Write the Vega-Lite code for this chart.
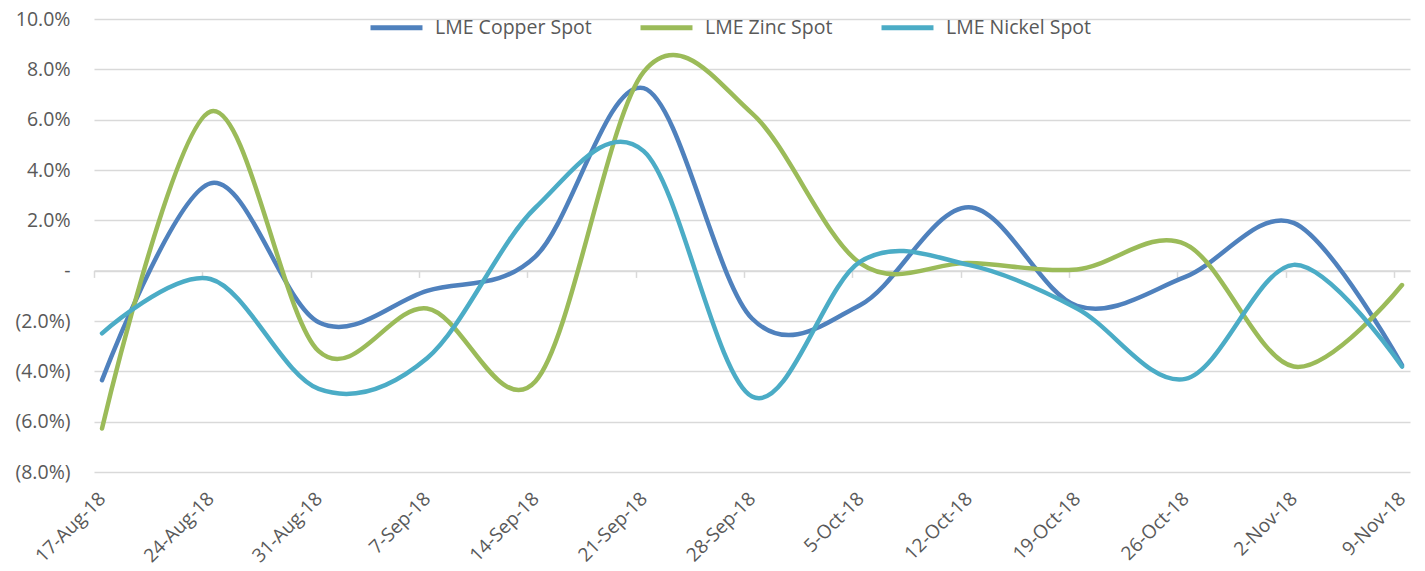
{
  "$schema": "https://vega.github.io/schema/vega-lite/v6.json",
  "width": 1316,
  "height": 453,
  "autosize": {"type": "none"},
  "padding": {"left": 94, "top": 19, "right": 15, "bottom": 99},
  "background": "white",
  "config": {"view": {"stroke": null}, "font": "Open Sans"},
  "data": {"values": [
    {"week": "17-Aug-18", "series": "LME Copper Spot", "value": -4.35},
    {"week": "24-Aug-18", "series": "LME Copper Spot", "value": 3.47},
    {"week": "31-Aug-18", "series": "LME Copper Spot", "value": -2.05},
    {"week": "7-Sep-18", "series": "LME Copper Spot", "value": -0.8},
    {"week": "14-Sep-18", "series": "LME Copper Spot", "value": 0.56},
    {"week": "21-Sep-18", "series": "LME Copper Spot", "value": 7.25},
    {"week": "28-Sep-18", "series": "LME Copper Spot", "value": -1.9},
    {"week": "5-Oct-18", "series": "LME Copper Spot", "value": -1.36},
    {"week": "12-Oct-18", "series": "LME Copper Spot", "value": 2.52},
    {"week": "19-Oct-18", "series": "LME Copper Spot", "value": -1.4},
    {"week": "26-Oct-18", "series": "LME Copper Spot", "value": -0.25},
    {"week": "2-Nov-18", "series": "LME Copper Spot", "value": 1.9},
    {"week": "9-Nov-18", "series": "LME Copper Spot", "value": -3.75},
    {"week": "17-Aug-18", "series": "LME Zinc Spot", "value": -6.27},
    {"week": "24-Aug-18", "series": "LME Zinc Spot", "value": 6.32},
    {"week": "31-Aug-18", "series": "LME Zinc Spot", "value": -3.2},
    {"week": "7-Sep-18", "series": "LME Zinc Spot", "value": -1.5},
    {"week": "14-Sep-18", "series": "LME Zinc Spot", "value": -4.4},
    {"week": "21-Sep-18", "series": "LME Zinc Spot", "value": 7.9},
    {"week": "28-Sep-18", "series": "LME Zinc Spot", "value": 6.25},
    {"week": "5-Oct-18", "series": "LME Zinc Spot", "value": 0.29},
    {"week": "12-Oct-18", "series": "LME Zinc Spot", "value": 0.3},
    {"week": "19-Oct-18", "series": "LME Zinc Spot", "value": 0.05},
    {"week": "26-Oct-18", "series": "LME Zinc Spot", "value": 1.05},
    {"week": "2-Nov-18", "series": "LME Zinc Spot", "value": -3.81},
    {"week": "9-Nov-18", "series": "LME Zinc Spot", "value": -0.57},
    {"week": "17-Aug-18", "series": "LME Nickel Spot", "value": -2.49},
    {"week": "24-Aug-18", "series": "LME Nickel Spot", "value": -0.33},
    {"week": "31-Aug-18", "series": "LME Nickel Spot", "value": -4.7},
    {"week": "7-Sep-18", "series": "LME Nickel Spot", "value": -3.48},
    {"week": "14-Sep-18", "series": "LME Nickel Spot", "value": 2.5},
    {"week": "21-Sep-18", "series": "LME Nickel Spot", "value": 4.75},
    {"week": "28-Sep-18", "series": "LME Nickel Spot", "value": -5.0},
    {"week": "5-Oct-18", "series": "LME Nickel Spot", "value": 0.36},
    {"week": "12-Oct-18", "series": "LME Nickel Spot", "value": 0.23},
    {"week": "19-Oct-18", "series": "LME Nickel Spot", "value": -1.5},
    {"week": "26-Oct-18", "series": "LME Nickel Spot", "value": -4.3},
    {"week": "2-Nov-18", "series": "LME Nickel Spot", "value": 0.23},
    {"week": "9-Nov-18", "series": "LME Nickel Spot", "value": -3.81}
  ]},
  "mark": {"type": "line", "interpolate": "cardinal", "strokeWidth": 4.5, "strokeCap": "round", "strokeJoin": "round"},
  "encoding": {
    "x": {
      "field": "week", "type": "ordinal", "sort": null,
      "scale": {"type": "point", "padding": 0.074},
      "axis": {
        "title": null, "orient": "bottom", "offset": -201.6,
        "domain": true, "domainColor": "#D9D9D9", "domainWidth": 1.5,
        "ticks": true, "tickSize": 7, "tickColor": "#D9D9D9", "tickWidth": 1.5, "tickOffset": -8,
        "grid": false,
        "labelOffset": 8, "labelPadding": 218, "labelAngle": -45, "labelAlign": "right", "labelBaseline": "middle",
        "labelFont": "Open Sans", "labelFontSize": 19, "labelColor": "#595959", "labelOverlap": false
      }
    },
    "y": {
      "field": "value", "type": "quantitative",
      "scale": {"domain": [-8, 10], "nice": false, "zero": false},
      "axis": {
        "title": null, "values": [-8, -6, -4, -2, 0, 2, 4, 6, 8, 10],
        "domain": false, "ticks": false, "grid": true, "gridColor": "#D9D9D9", "gridWidth": 1.5,
        "labelPadding": 24, "labelFont": "Open Sans", "labelFontSize": 19.5, "labelColor": "#595959",
        "labelExpr": "datum.value == 0 ? '-\u00a0\u00a0\u00a0' : (datum.value < 0 ? '(' + format(-datum.value, '.1f') + '%)' : format(datum.value, '.1f') + '%\u00a0')"
      }
    },
    "color": {
      "field": "series", "type": "nominal",
      "scale": {"domain": ["LME Copper Spot", "LME Zinc Spot", "LME Nickel Spot"], "range": ["#4F81BD", "#9BBB59", "#4BACC6"]},
      "legend": {
        "title": null, "orient": "none", "legendX": 274, "legendY": -20, "direction": "horizontal",
        "symbolType": "stroke", "symbolSize": 2700, "symbolStrokeWidth": 5,
        "labelFont": "Open Sans", "labelFontSize": 19.5, "labelColor": "#595959", "labelOffset": 10,
        "columnPadding": 38
      }
    }
  }
}
